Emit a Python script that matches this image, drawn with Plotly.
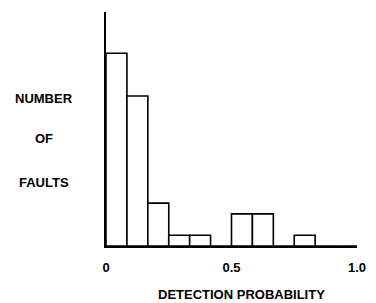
import plotly.graph_objects as go

# Histogram data: 12 bins of width 1/12 over detection probability [0, 1]
bin_width = 1 / 12
bin_starts = [i / 12 for i in range(12)]
fault_counts = [18, 14, 4, 1, 1, 0, 3, 3, 0, 1, 0, 0]

tick_vals = [0, 0.5, 1.0]
tick_text = ["0", "0.5", "1.0"]

y_label_lines = ["NUMBER", "OF", "FAULTS"]
x_title = "DETECTION PROBABILITY"

FONT = "Liberation Sans, Arial, Helvetica, sans-serif"

centers = [s + bin_width / 2 for s in bin_starts]

fig = go.Figure()
fig.add_trace(go.Bar(
    x=centers,
    y=fault_counts,
    width=[bin_width] * len(centers),
    marker=dict(color="white", line=dict(color="black", width=1.6)),
    hoverinfo="skip",
))

fig.update_layout(
    width=376, height=303,
    margin=dict(l=106, r=10, t=12, b=57),
    paper_bgcolor="white", plot_bgcolor="white",
    showlegend=False,
    bargap=0,
    font=dict(family=FONT, color="black", size=13),
)
fig.update_xaxes(
    range=[0, 1], showgrid=False, zeroline=False,
    showline=True, linecolor="black", linewidth=1.6,
    tickvals=tick_vals, ticktext=[f"<b>{t}</b>" for t in tick_text],
    ticks="", ticklabelstandoff=9,
    tickfont=dict(family=FONT, size=13, color="black"),
)
fig.update_yaxes(
    range=[0, 21.85], showgrid=False, zeroline=False,
    showline=True, linecolor="black", linewidth=1.6,
    showticklabels=False, ticks="",
)

label_y = [0.632, 0.4615, 0.2735]
for txt, yy in zip(y_label_lines, label_y):
    fig.add_annotation(
        text=f"<b>{txt}</b>", xref="paper", yref="paper",
        x=-0.246, y=yy, xanchor="center", yanchor="middle",
        showarrow=False, font=dict(family=FONT, size=13, color="black"),
    )

fig.add_annotation(
    text=f"<b>{x_title}</b>", xref="paper", yref="paper",
    x=0.540, y=-0.209, xanchor="center", yanchor="middle",
    showarrow=False, font=dict(family=FONT, size=13, color="black"),
)

page_css = (
    "document.documentElement.style.margin='0';"
    "document.body.style.margin='0';"
    "document.body.style.overflow='hidden';"
)
fig.write_html("out.html", post_script=page_css,
               config={"displayModeBar": False, "staticPlot": True})
